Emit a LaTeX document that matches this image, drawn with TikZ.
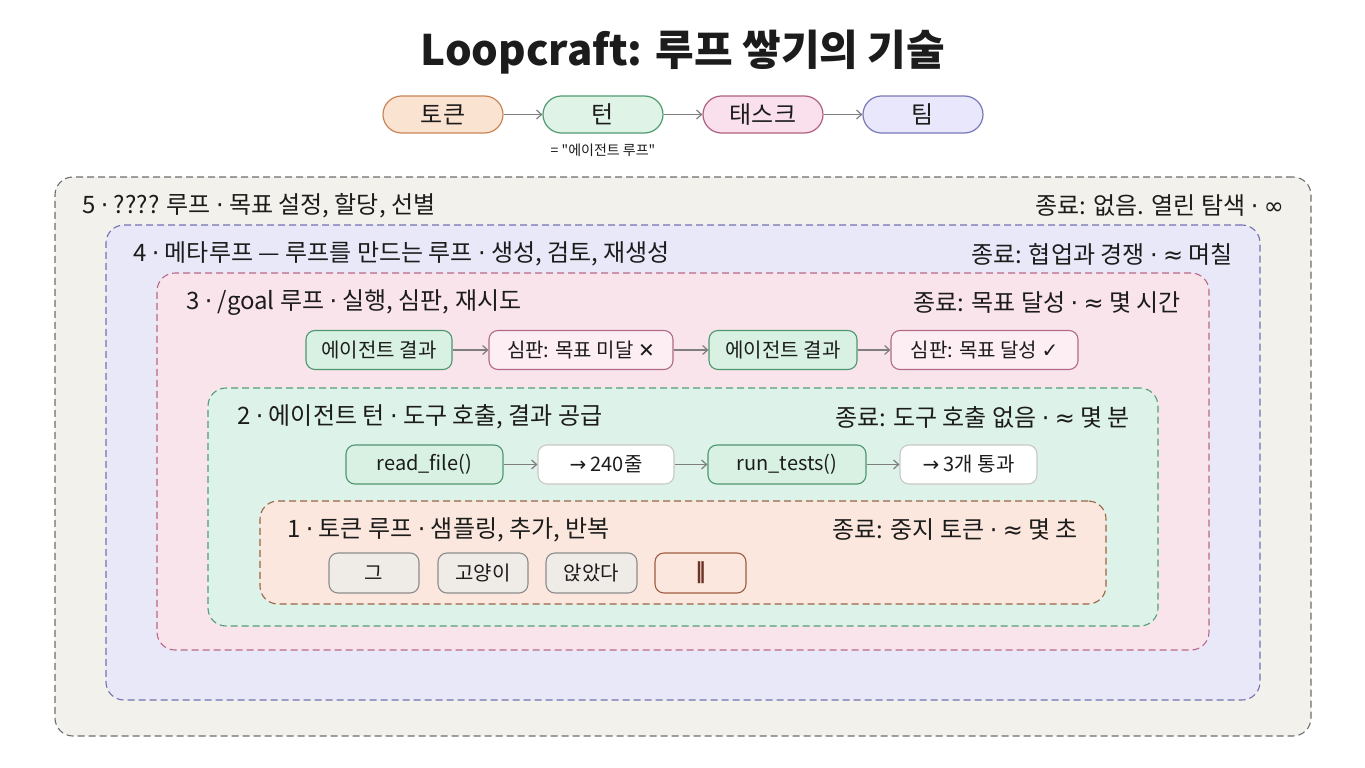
\documentclass[tikz,border=0pt]{standalone}
\usepackage{fontspec}
\setmainfont{Noto Sans CJK KR}
\newfontfamily\symfont{DejaVu Sans}
\newfontfamily\rawfont{Noto Sans CJK KR}[Ligatures=TeXOff]
\usetikzlibrary{arrows.meta}
\newcommand\sy[1]{{\symfont #1}}
\newcommand\md{{\symfont ·}}
\definecolor{ink}{HTML}{1C1C1C}
\definecolor{fiveF}{HTML}{F3F1EB}\definecolor{fiveD}{HTML}{6E6E6E}
\definecolor{fourF}{HTML}{E9E8F9}\definecolor{fourD}{HTML}{7272B0}
\definecolor{threeF}{HTML}{FAE4EC}\definecolor{threeD}{HTML}{B66A88}
\definecolor{twoF}{HTML}{DDF2E8}\definecolor{twoD}{HTML}{559C78}
\definecolor{oneF}{HTML}{FBE7DD}\definecolor{oneD}{HTML}{9A6446}
\definecolor{agF}{HTML}{D8F1E3}\definecolor{agD}{HTML}{4E9670}
\definecolor{juF}{HTML}{FDEEF3}\definecolor{juD}{HTML}{B06A88}
\definecolor{whD}{HTML}{C8C8C8}
\definecolor{tkF}{HTML}{EFEBE7}\definecolor{tkD}{HTML}{8C8C8C}
\definecolor{stopD}{HTML}{9E5E42}\definecolor{stopT}{HTML}{6B3426}
\definecolor{pOF}{HTML}{FBE3D2}\definecolor{pOD}{HTML}{C98456}
\definecolor{pGF}{HTML}{DFF3E7}\definecolor{pGD}{HTML}{4F9A70}
\definecolor{pPF}{HTML}{F9E0EC}\definecolor{pPD}{HTML}{B0607F}
\definecolor{pLF}{HTML}{E8E7FB}\definecolor{pLD}{HTML}{7878B8}
\definecolor{arrC}{HTML}{7E7E7E}
\tikzset{
  loopbox/.style={draw, dash pattern=on 7pt off 4pt, line width=1.1pt, rounded corners=18pt, inner sep=0pt},
  hdr/.style={inner sep=0pt, text=ink, font=\fontsize{24}{28}\selectfont},
  pill/.style={draw, line width=1.2pt, rounded corners=18.5pt, minimum width=120pt, minimum height=37pt, inner sep=0pt, text=ink, font=\fontsize{24}{28}\selectfont},
  rownode/.style={draw, line width=1.1pt, rounded corners=9pt, minimum height=39pt, inner sep=0pt, text=ink, font=\fontsize{20}{24}\selectfont},
  agent/.style={rownode, fill=agF, draw=agD},
  judge/.style={rownode, fill=juF, draw=juD},
  result/.style={rownode, fill=white, draw=whD},
  token/.style={rownode, fill=tkF, draw=tkD, minimum height=40pt, minimum width=90pt},
  arr/.style={draw=arrC, line width=1.2pt, -{Straight Barb[length=5pt,width=9pt]}}
}
\begin{document}
\begin{tikzpicture}[x=1pt,y=-1pt]
\fill[white] (0,0) rectangle (1365,768);
\useasboundingbox (0,0) rectangle (1365,768);
% title
\node[inner sep=0pt, text=ink, font=\fontsize{42}{50}\selectfont\bfseries] (title) at (683,52) {Loopcraft: 루프 쌓기의 기술};
% top chain
\node[pill, fill=pOF, draw=pOD] (pt) at (443,114.5) {토큰};
\node[pill, fill=pGF, draw=pGD] (pu) at (603,114.5) {턴};
\node[pill, fill=pPF, draw=pPD] (pk) at (763,114.5) {태스크};
\node[pill, fill=pLF, draw=pLD] (pm) at (923,114.5) {팀};
\draw[arr] (pt) -- (pu);
\draw[arr] (pu) -- (pk);
\draw[arr] (pk) -- (pm);
\node[inner sep=0pt, text=ink, font=\rawfont\fontsize{14}{17}\selectfont] (turnlbl) at (603,150) {= "에이전트 루프"};
% boxes
\node[loopbox, fill=fiveF, draw=fiveD, minimum width=1256pt, minimum height=559pt] (b5) at (683,456.5) {};
\node[loopbox, fill=fourF, draw=fourD, minimum width=1154pt, minimum height=475pt] (b4) at (683,462.5) {};
\node[loopbox, fill=threeF, draw=threeD, minimum width=1052pt, minimum height=377pt] (b3) at (683,461.5) {};
\node[loopbox, fill=twoF, draw=twoD, minimum width=950pt, minimum height=238pt] (b2) at (683,507) {};
\node[loopbox, fill=oneF, draw=oneD, minimum width=846pt, minimum height=103pt] (b1) at (683,552.5) {};
% headers
\node[hdr, anchor=west] (h5l) at (82,206) {5 \md{} ???? 루프 \md{} 목표 설정, 할당, 선별};
\node[hdr, anchor=east] (h5r) at (1284,206) {종료: 없음. 열린 탐색 \md{} \sy{∞}};
\node[hdr, anchor=west] (h4l) at (133,254) {4 \md{} 메타루프 — 루프를 만드는 루프 \md{} 생성, 검토, 재생성};
\node[hdr, anchor=east] (h4r) at (1233,254) {종료: 협업과 경쟁 \md{} \sy{≈} 며칠};
\node[hdr, anchor=west] (h3l) at (186,303) {3 \md{} /goal 루프 \md{} 실행, 심판, 재시도};
\node[hdr, anchor=east] (h3r) at (1181,303) {종료: 목표 달성 \md{} \sy{≈} 몇 시간};
\node[hdr, anchor=west] (h2l) at (237,417) {2 \md{} 에이전트 턴 \md{} 도구 호출, 결과 공급};
\node[hdr, anchor=east] (h2r) at (1130,417) {종료: 도구 호출 없음 \md{} \sy{≈} 몇 분};
\node[hdr, anchor=west] (h1l) at (287,530) {1 \md{} 토큰 루프 \md{} 샘플링, 추가, 반복};
\node[hdr, anchor=east] (h1r) at (1078,530) {종료: 중지 토큰 \md{} \sy{≈} 몇 초};
% row 3
\node[agent, minimum width=146pt] (n31) at (379,350) {에이전트 결과};
\node[judge, minimum width=184pt] (n32) at (581,350) {심판: 목표 미달 \sy{✕}};
\node[agent, minimum width=148pt] (n33) at (783,350) {에이전트 결과};
\node[judge, minimum width=187pt] (n34) at (984.5,350) {심판: 목표 달성 \sy{✓}};
\draw[arr] (n31) -- (n32);
\draw[arr] (n32) -- (n33);
\draw[arr] (n33) -- (n34);
% row 2
\node[agent, minimum width=157pt] (n21) at (424.5,464.5) {read\_file()};
\node[result, minimum width=136pt] (n22) at (606,464.5) {\sy{→} 240줄};
\node[agent, minimum width=158pt] (n23) at (787,464.5) {run\_tests()};
\node[result, minimum width=137pt] (n24) at (968.5,464.5) {\sy{→} 3개 통과};
\draw[arr] (n21) -- (n22);
\draw[arr] (n22) -- (n23);
\draw[arr] (n23) -- (n24);
% row 1
\node[token] (t1) at (374,573) {그};
\node[token] (t2) at (483,573) {고양이};
\node[token, minimum width=91pt] (t3) at (591.5,573) {앉았다};
\node[token, minimum width=91pt, fill=oneF, draw=stopD, text=stopT, font=\fontsize{22}{26}\selectfont\bfseries] (t4) at (700.5,573) {\sy{‖}};
\end{tikzpicture}
\end{document}
